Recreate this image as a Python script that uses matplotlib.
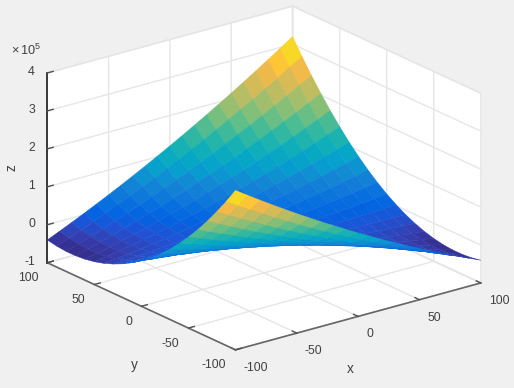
import numpy as np
import matplotlib
matplotlib.use("Agg")
import matplotlib.pyplot as plt
from matplotlib.colors import LinearSegmentedColormap, Normalize

plt.rcParams['font.family'] = ['Liberation Sans', 'DejaVu Sans']
plt.rcParams['mathtext.default'] = 'regular'
plt.rcParams['axes.unicode_minus'] = False

# grid
xValues = [-100, -90, -80, -70, -60, -50, -40, -30, -20, -10, 0, 10, 20, 30, 40, 50, 60, 70, 80, 90, 100]
yValues = [-100, -90, -80, -70, -60, -50, -40, -30, -20, -10, 0, 10, 20, 30, 40, 50, 60, 70, 80, 90, 100]

# z in hundreds, one row per x value, columns follow yValues
zHundreds = [
    [3200, 2792, 2408, 2048, 1712, 1400, 1112, 848, 608, 392, 200, 32, -112, -232, -328, -400, -448, -472, -472, -448, -400],
    [2982, 2592, 2226, 1884, 1566, 1272, 1002, 756, 534, 336, 162, 12, -114, -216, -294, -348, -378, -384, -366, -324, -258],
    [2768, 2396, 2048, 1724, 1424, 1148, 896, 668, 464, 284, 128, -4, -112, -196, -256, -292, -304, -292, -256, -196, -112],
    [2558, 2204, 1874, 1568, 1286, 1028, 794, 584, 398, 236, 98, -16, -106, -172, -214, -232, -226, -196, -142, -64, 38],
    [2352, 2016, 1704, 1416, 1152, 912, 696, 504, 336, 192, 72, -24, -96, -144, -168, -168, -144, -96, -24, 72, 192],
    [2150, 1832, 1538, 1268, 1022, 800, 602, 428, 278, 152, 50, -28, -82, -112, -118, -100, -58, 8, 98, 212, 350],
    [1952, 1652, 1376, 1124, 896, 692, 512, 356, 224, 116, 32, -28, -64, -76, -64, -28, 32, 116, 224, 356, 512],
    [1758, 1476, 1218, 984, 774, 588, 426, 288, 174, 84, 18, -24, -42, -36, -6, 48, 126, 228, 354, 504, 678],
    [1568, 1304, 1064, 848, 656, 488, 344, 224, 128, 56, 8, -16, -16, 8, 56, 128, 224, 344, 488, 656, 848],
    [1382, 1136, 914, 716, 542, 392, 266, 164, 86, 32, 2, -4, 14, 56, 122, 212, 326, 464, 626, 812, 1022],
    [1200, 972, 768, 588, 432, 300, 192, 108, 48, 12, 0, 12, 48, 108, 192, 300, 432, 588, 768, 972, 1200],
    [1022, 812, 626, 464, 326, 212, 122, 56, 14, -4, 2, 32, 86, 164, 266, 392, 542, 716, 914, 1136, 1382],
    [848, 656, 488, 344, 224, 128, 56, 8, -16, -16, 8, 56, 128, 224, 344, 488, 656, 848, 1064, 1304, 1568],
    [678, 504, 354, 228, 126, 48, -6, -36, -42, -24, 18, 84, 174, 288, 426, 588, 774, 984, 1218, 1476, 1758],
    [512, 356, 224, 116, 32, -28, -64, -76, -64, -28, 32, 116, 224, 356, 512, 692, 896, 1124, 1376, 1652, 1952],
    [350, 212, 98, 8, -58, -100, -118, -112, -82, -28, 50, 152, 278, 428, 602, 800, 1022, 1268, 1538, 1832, 2150],
    [192, 72, -24, -96, -144, -168, -168, -144, -96, -24, 72, 192, 336, 504, 696, 912, 1152, 1416, 1704, 2016, 2352],
    [38, -64, -142, -196, -226, -232, -214, -172, -106, -16, 98, 236, 398, 584, 794, 1028, 1286, 1568, 1874, 2204, 2558],
    [-112, -196, -256, -292, -304, -292, -256, -196, -112, -4, 128, 284, 464, 668, 896, 1148, 1424, 1724, 2048, 2396, 2768],
    [-258, -324, -366, -384, -378, -348, -294, -216, -114, 12, 162, 336, 534, 756, 1002, 1272, 1566, 1884, 2226, 2592, 2982],
    [-400, -448, -472, -472, -448, -400, -328, -232, -112, 32, 200, 392, 608, 848, 1112, 1400, 1712, 2048, 2408, 2792, 3200],
]

xTicks = [-100, -50, 0, 50, 100]
yTicks = [-100, -50, 0, 50, 100]
zTicks = [-100000, 0, 100000, 200000, 300000, 400000]
zTickLabels = ['-1', '0', '1', '2', '3', '4']

parulaColours = [
    (.2081, .1663, .5292), (.2081, .2386, .6771), (.1253, .3242, .8303), (.0117, .3875, .8820),
    (.0329, .4430, .8720), (.0723, .4887, .8467), (.0749, .5375, .8263), (.0265, .6137, .8135),
    (.0228, .6535, .7768), (.0590, .6838, .7254), (.1453, .7098, .6646), (.2586, .7317, .5954),
    (.3953, .7459, .5244), (.5300, .7491, .4661), (.6473, .7456, .4188), (.7525, .7384, .3768),
    (.8507, .7299, .3360), (.9450, .7261, .2886), (.9990, .7653, .2164), (.9789, .8271, .1633),
    (.9589, .8949, .1132), (.9763, .9831, .0538),
]
parula = LinearSegmentedColormap.from_list("parula", parulaColours, N=256)

textColour = '#404040'

fig = plt.figure(figsize=(5.14, 3.88), dpi=100, facecolor='#f0f0f0')
ax = fig.add_axes([23.7/514, -30.3/388, 468/514, 468/388], projection='3d', proj_type='ortho')
ax.set_facecolor('none')
ax.view_init(elev=20.8, azim=-127.5)
ax.set_box_aspect((309.7, 309.7, 203.3), zoom=1)

xGrid, yGrid = np.meshgrid(xValues, yValues, indexing='ij')
zGrid = np.array(zHundreds) * 100.0

surf = ax.plot_surface(xGrid, yGrid, zGrid, rstride=1, cstride=1, cmap=parula,
                       norm=Normalize(zGrid.min(), zGrid.max()), linewidth=0.3,
                       antialiased=True)
surf.set_edgecolor('face')

ax.set_xlim(-100, 100, view_margin=0)
ax.set_ylim(-100, 100, view_margin=0)
ax.set_zlim(-100000, 400000, view_margin=0)

ax.set_xticks(xTicks)
ax.set_yticks(yTicks)
ax.set_zticks(zTicks)
ax.set_zticklabels(zTickLabels)

for axis in [ax.xaxis, ax.yaxis, ax.zaxis]:
    axis.set_pane_color((1, 1, 1, 1))
    axis.pane.set_edgecolor('#e3e3e3')
    axis._axinfo['grid'].update(color='#e6e6e6', linewidth=1.0)
    axis._axinfo['tick'].update(inward_factor=0.0, outward_factor=0.3, linewidth={True: 1.0, False: 1.0})
    axis.line.set_color('#666666')
    axis.line.set_linewidth(1.2)
ax.zaxis.line.set_color('#1a1a1a')

ax.tick_params(axis='both', labelsize=8.8, labelcolor=textColour, colors='#505050', pad=0)
ax.tick_params(axis='x', pad=-0.5)
ax.tick_params(axis='y', pad=-1.5)
ax.tick_params(axis='z', pad=-3)

for label in ax.get_xticklabels():
    label.set_ha('left')
for label in ax.get_yticklabels():
    label.set_ha('right')
for label in ax.get_zticklabels():
    label.set_ha('right')
    label.set_va('center')

fig.text(350/514, 1-369/388, 'x', fontsize=9.8, color=textColour, ha='center', va='center')
fig.text(134/514, 1-365/388, 'y', fontsize=9.8, color=textColour, ha='center', va='center')
fig.text(11/514, 1-168/388, 'z', fontsize=9.8, color=textColour, ha='center', va='center', rotation=90)
fig.text(11/514, 1-50/388, r'$\times\,10^{5}$', fontsize=9.2, color=textColour, va='center')

fig.savefig('out.png', dpi=100, facecolor=fig.get_facecolor())
